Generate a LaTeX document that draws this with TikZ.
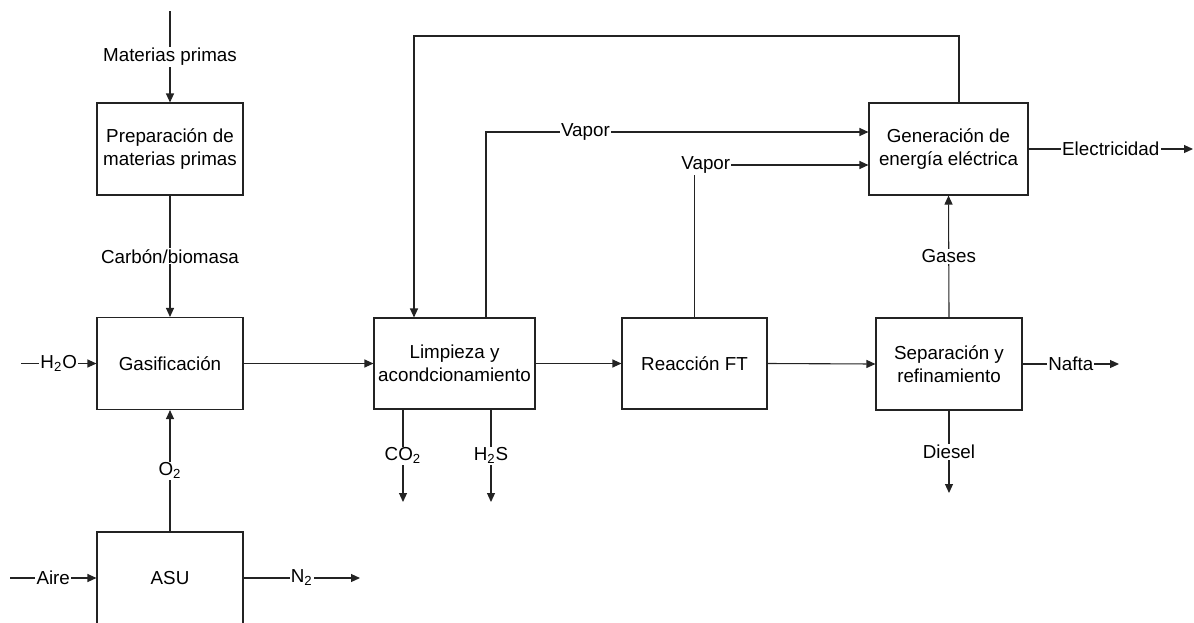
\documentclass[tikz,border=0pt]{standalone}
\usepackage{fontspec}
\setmainfont{Liberation Sans}
\usepackage{tikz}
\usetikzlibrary{arrows.meta, positioning, calc}
\definecolor{lnblack}{RGB}{35,35,35}

\tikzset{
  unit/.style={draw=lnblack, line width=0.55pt, align=center, inner sep=0pt,
               minimum height=46pt, text=black},
  flow/.style={draw=lnblack, line width=0.55pt, -{Triangle[length=4.5pt,width=4pt]}},
  lbl/.style={fill=white, inner sep=0.6pt, text=black}
}

\begin{document}
\begin{tikzpicture}[x=0.5pt, y=-0.5pt, font=\fontsize{9.4}{11.3}\selectfont]
  \useasboundingbox (0,0) rectangle (1194,622);
  \clip (0,0) rectangle (1194,622);

  % Process units
  \node[unit, minimum width=73pt] (prep) at (170,149) {Preparación de\\materias primas};
  \node[unit, minimum width=73pt] (gasif) at (170,363.5) {Gasificación};
  \node[unit, minimum width=73pt] (asu) at (170,578) {ASU};
  \node[unit, minimum width=80.5pt, minimum height=45.5pt] (limp) at (454.5,363.5) {Limpieza y\\acondcionamiento};
  \node[unit, minimum width=72.5pt, minimum height=45.5pt] (reac) at (694.5,363.5) {Reacción FT};
  \node[unit, minimum width=73pt] (sep) at (949,364) {Separación y\\refinamiento};
  \node[unit, minimum width=79.5pt] (gen) at (948.5,149) {Generación de\\energía eléctrica};

  % Free ends and bends
  \coordinate (mpin) at (170,11);
  \coordinate (h2oin) at (21,363.5);
  \coordinate (airein) at (10,578);
  \coordinate (n2out) at (360,578);
  \coordinate (co2out) at (403,502);
  \coordinate (h2sout) at (491,502);
  \coordinate (elecout) at (1193,149);
  \coordinate (naftaout) at (1119,364);
  \coordinate (dieselout) at (949,493);
  \coordinate (loopa) at (959,36);
  \coordinate (loopb) at (414,36);
  \coordinate (vapa) at (486,132);
  \coordinate (vapb) at (694.5,165);

  % Feed line
  \draw[flow] (mpin) -- node[lbl]{Materias primas} (prep.north);
  \draw[flow] (prep.south) -- node[lbl]{Carbón/biomasa} (gasif.north);
  \draw[flow] (h2oin) -- node[lbl]{H\textsubscript{2}O} (gasif.west);
  \draw[flow] (asu.north) -- node[lbl]{O\textsubscript{2}} (gasif.south);
  \draw[flow] (airein) -- node[lbl]{Aire} (asu.west);
  \draw[flow] (asu.east) -- node[lbl]{N\textsubscript{2}} (n2out);

  % Main train
  \draw[flow] (gasif.east) -- (limp.west);
  \draw[flow] (limp.east) -- (reac.west);
  \draw[flow] (reac.east) -- (sep.west);
  \draw[flow] (limp.south -| co2out) -- node[lbl]{CO\textsubscript{2}} (co2out);
  \draw[flow] (limp.south -| h2sout) -- node[lbl]{H\textsubscript{2}S} (h2sout);

  % Products
  \draw[flow] (sep.north) -- node[lbl]{Gases} (gen.south);
  \draw[flow] (sep.east) -- node[lbl]{Nafta} (naftaout);
  \draw[flow] (sep.south) -- node[lbl]{Diesel} (dieselout);
  \draw[flow] (gen.east) -- node[lbl]{Electricidad} (elecout);

  % Steam to power block
  \draw[flow] (limp.north -| vapa) -- (vapa) -- node[lbl, pos=0.26]{Vapor} (vapa -| gen.west);
  \draw[flow] (reac.north) -- (vapb) -- node[lbl, pos=0.065]{Vapor} (vapb -| gen.west);

  % Recycle to cleaning
  \draw[flow] (gen.north -| loopa) -- (loopa) -- (loopb) -- (limp.north -| loopb);
\end{tikzpicture}
\end{document}
